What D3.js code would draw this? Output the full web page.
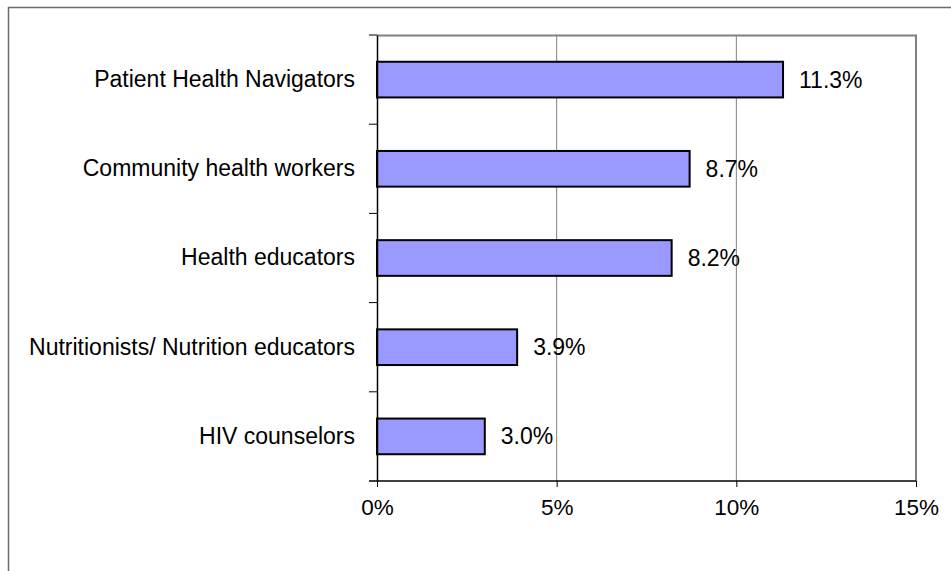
<!DOCTYPE html>
<html>
<head>
<meta charset="utf-8">
<script src="https://cdn.jsdelivr.net/npm/d3@7"></script>
<style>
  body { margin: 0; background: #fff; }
  svg { display: block; }
  text { font-family: "Liberation Sans", Arial, sans-serif; fill: #000; }
</style>
</head>
<body>
<svg width="951" height="571"></svg>
<script>
// Data
var categories = ["Patient Health Navigators", "Community health workers", "Health educators",
                  "Nutritionists/ Nutrition educators", "HIV counselors"];
var values = [11.3, 8.7, 8.2, 3.9, 3.0];
var xTicks = [0, 5, 10, 15];

var margin = {top: 35, left: 377, right: 951 - 916, bottom: 571 - 481},
    width = 951 - margin.left - margin.right,
    height = 571 - margin.top - margin.bottom;

var fontSize = "23px";

var svg = d3.select("svg");

// outer chart frame
svg.append("rect")
    .attr("x", 8.5).attr("y", 7.5)
    .attr("width", 960).attr("height", 600)
    .attr("fill", "none")
    .attr("stroke", "#6a6a6a")
    .attr("stroke-width", 1.5);

var g = svg.append("g")
    .attr("transform", "translate(" + margin.left + "," + margin.top + ")");

var x = d3.scaleLinear().domain([0, 15]).range([0, width]);
var y = d3.scaleBand().domain(categories).range([0, height]).paddingInner(0.6).paddingOuter(0.3);
var yBand = d3.scaleBand().domain(categories).range([0, height]);

// gridlines
g.selectAll(".grid")
    .data(xTicks.slice(1))
    .join("line")
    .attr("x1", d => x(d)).attr("x2", d => x(d))
    .attr("y1", 0).attr("y2", height)
    .attr("stroke", "#808080").attr("stroke-width", 1);

// plot border (top + right)
g.append("path")
    .attr("d", "M0,0.5H" + width + "V" + height)
    .attr("fill", "none")
    .attr("stroke", "#808080").attr("stroke-width", 2);

// bars
g.selectAll(".bar")
    .data(values)
    .join("rect")
    .attr("x", 0)
    .attr("y", (d, i) => y(categories[i]))
    .attr("width", d => x(d))
    .attr("height", y.bandwidth())
    .attr("fill", "#9999ff")
    .attr("stroke", "#000")
    .attr("stroke-width", 2);

// value labels
g.selectAll(".val")
    .data(values)
    .join("text")
    .attr("x", d => x(d) + 16)
    .attr("y", (d, i) => y(categories[i]) + y.bandwidth() / 2)
    .attr("dy", "0.35em")
    .attr("font-size", fontSize)
    .text(d => d.toFixed(1) + "%");

// y axis
var yAxis = d3.axisLeft(yBand).tickSize(0).tickPadding(22);
var ya = g.append("g").call(yAxis);
ya.select(".domain").attr("stroke", "#000").attr("stroke-width", 1.5);
ya.selectAll("text").attr("font-size", fontSize).attr("font-family", "Liberation Sans, Arial, sans-serif").attr("fill", "#000");
// labels that would run past the frame start at the frame's inner edge
var minX = 27 - margin.left;
ya.selectAll("text").each(function() {
    var w = this.getComputedTextLength();
    if (-22 - w < minX) {
        d3.select(this).attr("text-anchor", "start").attr("x", minX);
    }
});
// y category boundary ticks
g.selectAll(".ytick")
    .data(d3.range(categories.length))
    .join("line")
    .attr("x1", -8).attr("x2", 0)
    .attr("y1", d => yBand.step() * d).attr("y2", d => yBand.step() * d)
    .attr("stroke", "#000").attr("stroke-width", 1);

// x axis
var xAxis = d3.axisBottom(x).tickValues(xTicks).tickSize(6).tickPadding(12).tickFormat(d => d + "%");
var xa = g.append("g").attr("transform", "translate(0," + height + ")").call(xAxis);
xa.select(".domain").attr("stroke", "#000").attr("stroke-width", 1.5).attr("d", "M-8,0H" + width);
xa.selectAll(".tick line").attr("stroke", "#000");
xa.selectAll("text").attr("font-size", "22.5px").attr("font-family", "Liberation Sans, Arial, sans-serif").attr("fill", "#000");
</script>
</body>
</html>
